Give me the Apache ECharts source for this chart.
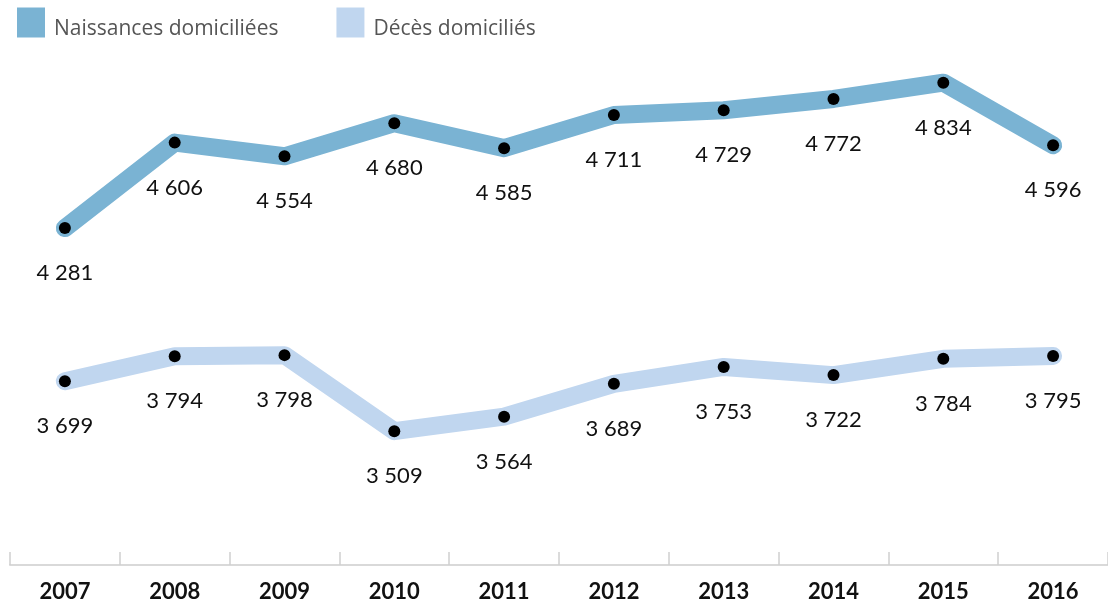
<!DOCTYPE html>
<html><head><meta charset="utf-8">
<script src="https://cdn.jsdelivr.net/npm/echarts@6/dist/echarts.min.js"></script>
<style>html,body{margin:0;padding:0;background:#fff}#c{width:1108px;height:604px}</style>
</head><body><div id="c"></div>
<script>
var years = ['2007','2008','2009','2010','2011','2012','2013','2014','2015','2016'];
var naissances = [4281,4606,4554,4680,4585,4711,4729,4772,4834,4596];
var deces = [3699,3794,3798,3509,3564,3689,3753,3722,3784,3795];
var seriesNames = ['Naissances domiciliées','Décès domiciliés'];

function fmt(v){ var s=String(v); return s.length>3 ? s.slice(0,s.length-3)+' '+s.slice(-3) : s; }
var FONT = 'Lato';
function mk(name, data, color){
  return {
    name: name, type: 'line', data: data,
    lineStyle: {width: 18, color: color, cap: 'round', join: 'round'},
    itemStyle: {color: '#000', borderWidth: 0},
    symbol: 'circle', symbolSize: 12, showAllSymbol: true,
    label: {show: true, position: 'bottom', distance: 28, color: '#111', fontSize: 22, fontFamily: FONT,
      formatter: function(p){ return fmt(p.value); }},
    emphasis: {disabled: true},
    animation: false
  };
}
var chart = echarts.init(document.getElementById('c'));
chart.setOption({
  animation: false,
  legend: {
    left: 12, top: 0, itemWidth: 28, itemHeight: 30, itemGap: 58,
    icon: 'rect',
    formatter: function(n){ return '{t|' + n + '}'; },
    textStyle: {fontSize: 21, color: '#555', fontFamily: 'Open Sans',
      rich: {t: {fontSize: 21, color: '#555', fontFamily: 'Open Sans', lineHeight: 21, padding: [14,0,0,4]}}},
    data: [{name: seriesNames[0], itemStyle:{color:'#7ab3d3'}}, {name: seriesNames[1], itemStyle:{color:'#c0d6ef'}}]
  },
  grid: {left: 10, right: -2, top: 39, bottom: 39},
  xAxis: {
    type: 'category', data: years, boundaryGap: true,
    axisLine: {show: true, lineStyle: {color: '#d9d9d9', width: 2}},
    axisTick: {show: true, inside: true, length: 13, lineStyle: {color: '#d0d0d0', width: 1.5}},
    axisLabel: {color: '#111', fontSize: 22, fontWeight: 'bold', fontFamily: FONT, margin: 16}
  },
  yAxis: {type: 'value', min: 3000, max: 5000, show: false, splitLine: {show: false}},
  series: [mk(seriesNames[0], naissances, '#7ab3d3'), mk(seriesNames[1], deces, '#c0d6ef')]
});
</script></body></html>
